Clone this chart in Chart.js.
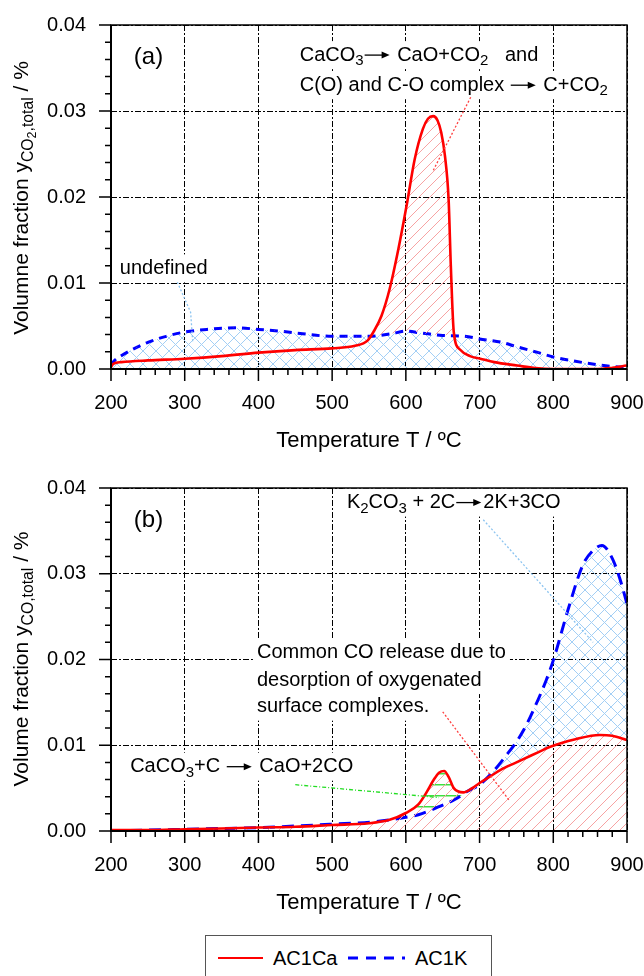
<!DOCTYPE html>
<html>
<head>
<meta charset="utf-8">
<script src="https://cdn.jsdelivr.net/npm/chart.js@4.4.1/dist/chart.umd.min.js"></script>
<style>
  body { margin: 0; background: #fff; width: 644px; height: 976px; overflow: hidden; position: relative;
         font-family: "Liberation Sans", Arial, sans-serif; }
  canvas { position: absolute; left: 0; }
  #chartA { top: 0; }
  #chartB { top: 460px; }
  .legend { position: absolute; left: 205px; top: 935px; width: 287px; height: 60px;
            border: 1px solid #555; box-sizing: border-box; }
  .legend svg { position: absolute; top: 12px; }
  .legend span { position: absolute; top: 10px; font-size: 20px; line-height: 24px; color: #000; }
</style>
</head>
<body>
<canvas id="chartA" width="644" height="460"></canvas>
<canvas id="chartB" width="644" height="460"></canvas>
<div class="legend" id="legend"></div>

<script>
// ---- data ----
const seriesNames = ['AC1Ca', 'AC1K'];
const xTickValues = [200, 300, 400, 500, 600, 700, 800, 900];
const yTickValues = [0, 0.01, 0.02, 0.03, 0.04];

// (a) CO2
const caTempA = [200, 203, 214, 250, 300, 350, 400, 450, 500, 531, 548, 556, 567, 578, 590, 601, 612, 623, 630, 637, 643, 648, 653, 658, 661, 665, 673, 687, 701, 720, 751, 776, 801, 830, 860, 876, 900];
const caCO2   = [0.0002, 0.0006, 0.0008, 0.0010, 0.0012, 0.0015, 0.0019, 0.0022, 0.0024, 0.0027, 0.0033, 0.0043, 0.0062, 0.0093, 0.0140, 0.0190, 0.0244, 0.0279, 0.0291, 0.0294, 0.0289, 0.0275, 0.0248, 0.0197, 0.0120, 0.0043, 0.0023, 0.0015, 0.0012, 0.0008, 0.0004, 0.0001, 0.0000, 0.0000, 0.0000, 0.0001, 0.0004];
const kTempA  = [200, 205, 215, 230, 250, 275, 300, 330, 370, 400, 430, 460, 500, 550, 580, 600, 620, 650, 680, 700, 730, 750, 780, 800, 830, 860, 880, 900];
const kCO2    = [0.0004, 0.0010, 0.0016, 0.0023, 0.0031, 0.0038, 0.0043, 0.0046, 0.0048, 0.0046, 0.0044, 0.0041, 0.0038, 0.0038, 0.0041, 0.0044, 0.0042, 0.0039, 0.0038, 0.0035, 0.0031, 0.0026, 0.0019, 0.0014, 0.0009, 0.0005, 0.0003, 0.0002];

// (b) CO
const caTempB = [200, 250, 300, 350, 400, 450, 500, 550, 578, 600, 617, 628, 638, 645, 652, 658, 665, 678, 690, 700, 715, 728, 750, 780, 795, 830, 863, 880, 900];
const caCO    = [0.0001, 0.0001, 0.0002, 0.0003, 0.0004, 0.0005, 0.0007, 0.0009, 0.0013, 0.0021, 0.0031, 0.0045, 0.0060, 0.0068, 0.0070, 0.0063, 0.0050, 0.0045, 0.0050, 0.0056, 0.0064, 0.0071, 0.0080, 0.0092, 0.0098, 0.0107, 0.0112, 0.0111, 0.0106];
const kTempB  = [200, 300, 400, 500, 560, 600, 617, 644, 667, 683, 700, 715, 725, 735, 750, 760, 772, 790, 800, 820, 840, 855, 866, 880, 890, 900];
const kCO     = [0.0000, 0.0002, 0.0004, 0.0008, 0.0011, 0.0016, 0.0019, 0.0028, 0.0037, 0.0046, 0.0054, 0.0066, 0.0076, 0.0087, 0.0104, 0.0118, 0.0139, 0.0175, 0.0199, 0.0258, 0.0310, 0.0328, 0.0333, 0.0318, 0.0295, 0.0265];

// ---- styling ----
const FONT = '"Liberation Sans", Arial, sans-serif';
const RED = '#ff0000';
const BLUE = '#0000ff';
const ARROW = { arrow: true };

function hatch(kind, color, size, lw) {
    const c = document.createElement('canvas');
    c.width = size; c.height = size;
    const g = c.getContext('2d');
    g.strokeStyle = color;
    g.lineWidth = lw;
    g.beginPath();
    for (let k = -1; k <= 1; k++) {
        if (kind === 'fwd' || kind === 'cross') {
            g.moveTo(k * size, size); g.lineTo(k * size + size, 0);
        }
        if (kind === 'back' || kind === 'cross') {
            g.moveTo(k * size, 0); g.lineTo(k * size + size, size);
        }
    }
    if (kind === 'horiz') {
        g.moveTo(0, size / 2); g.lineTo(size, size / 2);
    }
    g.stroke();
    return g.createPattern(c, 'repeat');
}

const blueCross = hatch('cross', '#a3cff5', 13, 1);
const redHatch = hatch('fwd', '#f7a3a3', 11, 1);
const greenHatch = hatch('horiz', '#3ee03e', 11.5, 1.5);

// draw text with sub/subsub parts; returns width
function drawParts(ctx, parts, x, y, size, dry) {
    let cx = x;
    ctx.textBaseline = 'middle';
    ctx.textAlign = 'left';
    parts.forEach(p => {
        if (p === ARROW) {
            if (!dry) {
                ctx.save();
                ctx.strokeStyle = '#000';
                ctx.fillStyle = '#000';
                ctx.lineWidth = 1.3;
                ctx.beginPath();
                ctx.moveTo(cx + 1, y); ctx.lineTo(cx + 20, y);
                ctx.stroke();
                ctx.beginPath();
                ctx.moveTo(cx + 26, y); ctx.lineTo(cx + 18, y - 3.5); ctx.lineTo(cx + 18, y + 3.5);
                ctx.closePath(); ctx.fill();
                ctx.restore();
            }
            cx += 28;
            return;
        }
        const t = typeof p === 'string' ? p : p[0];
        const lvl = typeof p === 'string' ? 0 : p[1];
        const fs = lvl === 0 ? size : lvl === 1 ? size * 0.75 : size * 0.6;
        const dy = lvl === 0 ? 0 : lvl === 1 ? size * 0.3 : size * 0.48;
        ctx.font = `${fs}px ${FONT}`;
        if (!dry) ctx.fillText(t, cx, y + dy);
        cx += ctx.measureText(t).width;
    });
    return cx - x;
}

function makeDecor(spec) {
    return {
        id: 'decor',
        beforeDatasetsDraw(chart) {
            const { ctx } = chart;
            const { x, y } = chart.scales;
            ctx.save();
            ctx.fillStyle = '#fff';
            spec.notes.forEach(n => {
                if (n.bg === false) return;
                const px = x.getPixelForValue(n.x), py = y.getPixelForValue(n.y);
                const w = drawParts(ctx, n.parts, px, py, n.size || 20, true);
                ctx.fillRect(px - 4, py - 14, w + 8, 28);
            });
            ctx.restore();
        },
        afterDatasetsDraw(chart) {
            const { ctx } = chart;
            const { x, y } = chart.scales;
            ctx.save();
            spec.leaders.forEach(l => {
                ctx.strokeStyle = l.color;
                ctx.lineWidth = 1.3;
                ctx.setLineDash(l.dash || [2, 2]);
                ctx.beginPath();
                l.pts.forEach((p, i) => {
                    const px = x.getPixelForValue(p[0]), py = y.getPixelForValue(p[1]);
                    if (i === 0) ctx.moveTo(px, py); else ctx.lineTo(px, py);
                });
                ctx.stroke();
            });
            ctx.setLineDash([]);
            ctx.fillStyle = '#000';
            spec.notes.forEach(n => {
                drawParts(ctx, n.parts, x.getPixelForValue(n.x), y.getPixelForValue(n.y), n.size || 20, false);
            });
            ctx.restore();
        },
        afterDraw(chart) {
            const { ctx, chartArea: a } = chart;
            const { x, y } = chart.scales;
            ctx.save();
            ctx.strokeStyle = '#000';
            ctx.lineWidth = 1.5;
            ctx.strokeRect(a.left, a.top, a.right - a.left, a.bottom - a.top);
            ctx.lineWidth = 2;
            ctx.beginPath();
            ctx.moveTo(a.left, a.top); ctx.lineTo(a.left, a.bottom); ctx.lineTo(a.right, a.bottom);
            ctx.stroke();
            // outward ticks, long on labelled values
            ctx.lineWidth = 1.5;
            ctx.beginPath();
            x.ticks.forEach(t => {
                const px = x.getPixelForValue(t.value);
                const len = isMajorX(t.value) ? 12 : 6;
                ctx.moveTo(px, a.bottom); ctx.lineTo(px, a.bottom + len);
            });
            y.ticks.forEach(t => {
                const py = y.getPixelForValue(t.value);
                const len = isMajorY(t.value) ? 12 : 6;
                ctx.moveTo(a.left, py); ctx.lineTo(a.left - len, py);
            });
            ctx.stroke();
            // rotated y title with subscripts
            ctx.fillStyle = '#000';
            ctx.translate(22, spec.yTitleCenter);
            ctx.rotate(-Math.PI / 2);
            const w = drawParts(ctx, spec.yTitle, 0, 0, 21, true);
            drawParts(ctx, spec.yTitle, -w / 2, 0, 21, false);
            ctx.restore();
        }
    };
}

function isMajorY(v) {
    return yTickValues.some(t => Math.abs(t - v) < 1e-7);
}
function isMajorX(v) {
    return xTickValues.includes(Math.round(v));
}

function pts(xs, ys) {
    return xs.map((t, i) => ({ x: t, y: ys[i] }));
}

function noPad(s) {
    s.paddingLeft = 0; s.paddingRight = 0; s.paddingTop = 0; s.paddingBottom = 0;
}

function buildChart(id, spec) {
    const ctx = document.getElementById(id).getContext('2d');
    return new Chart(ctx, {
        type: 'line',
        data: {
            datasets: [
                {
                    label: seriesNames[0],
                    data: pts(spec.caX, spec.caY),
                    borderColor: RED,
                    borderWidth: 2.6,
                    pointRadius: 0,
                    cubicInterpolationMode: 'monotone',
                    backgroundColor: redHatch,
                    fill: spec.redFill
                },
                {
                    label: seriesNames[1],
                    data: pts(spec.kX, spec.kY),
                    borderColor: BLUE,
                    borderWidth: 3,
                    borderDash: spec.blueDash,
                    pointRadius: 0,
                    cubicInterpolationMode: 'monotone',
                    backgroundColor: blueCross,
                    fill: spec.blueFill
                }
            ]
        },
        options: {
            responsive: false,
            animation: false,
            events: [],
            layout: { padding: { left: 0, right: 17, top: spec.padTop, bottom: 0 } },
            scales: {
                x: {
                    type: 'linear',
                    min: 200,
                    max: 900,
                    afterFit: s => { s.height = spec.xHeight; noPad(s); },
                    grid: {
                        drawTicks: false,
                        lineWidth: 1,
                        color: c => (c.tick && isMajorX(c.tick.value)) ? '#000' : 'rgba(0,0,0,0)'
                    },
                    border: { display: false, dash: [6, 2, 2, 2] },
                    ticks: {
                        stepSize: 20,
                        autoSkip: false,
                        maxRotation: 0,
                        padding: 22,
                        color: '#000',
                        font: { size: 20, family: FONT },
                        callback: v => isMajorX(v) ? String(Math.round(v)) : ''
                    },
                    title: {
                        display: true,
                        text: 'Temperature T / ºC',
                        color: '#000',
                        font: { size: 22, family: FONT },
                        padding: { top: 0, bottom: spec.xTitlePad }
                    }
                },
                y: {
                    min: 0,
                    max: 0.04,
                    afterFit: s => { s.width = 111; noPad(s); },
                    grid: {
                        drawTicks: false,
                        lineWidth: 1,
                        color: c => (c.tick && isMajorY(c.tick.value)) ? '#000' : 'rgba(0,0,0,0)'
                    },
                    border: { display: false, dash: [6, 2, 2, 2] },
                    ticks: {
                        stepSize: 0.002,
                        autoSkip: false,
                        padding: 25,
                        color: '#000',
                        font: { size: 20, family: FONT },
                        callback: v => isMajorY(v) ? v.toFixed(2) : ''
                    }
                }
            },
            plugins: {
                legend: { display: false },
                tooltip: { enabled: false }
            }
        },
        plugins: [makeDecor(spec)]
    });
}

// (a) CO2 release
buildChart('chartA', {
    caX: caTempA, caY: caCO2, kX: kTempA, kY: kCO2,
    redFill: { target: 1, above: redHatch, below: 'rgba(0,0,0,0)' },
    blueFill: 'origin',
    blueDash: [8, 6],
    padTop: 25, xHeight: 91, xTitlePad: 6,
    yTitleCenter: 198,
    yTitle: ['Volumne fraction y', ['CO', 1], ['2', 2], [',total', 1], ' / %'],
    notes: [
        { x: 231, y: 0.0362, size: 24, bg: false, parts: ['(a)'] },
        { x: 456, y: 0.0365, parts: ['CaCO', ['3', 1], ARROW, ' CaO+CO', ['2', 1], '   and'] },
        { x: 456, y: 0.0330, parts: ['C(O) and C-O complex ', ARROW, ' C+CO', ['2', 1]] },
        { x: 212, y: 0.0117, parts: ['undefined'] }
    ],
    leaders: [
        { color: '#ff4040', pts: [[688, 0.0316], [636, 0.0229]] },
        { color: '#8cc4f0', pts: [[290, 0.0101], [308, 0.0066], [311, 0.0030]] }
    ]
});

// (b) CO release
buildChart('chartB', {
    caX: caTempB, caY: caCO, kX: kTempB, kY: kCO,
    redFill: 'origin',
    blueFill: { target: 0, above: blueCross, below: greenHatch },
    blueDash: [12, 7],
    padTop: 28, xHeight: 89, xTitlePad: 4,
    yTitleCenter: 199,
    yTitle: ['Volume fraction y', ['CO,total', 1], ' / %'],
    notes: [
        { x: 231, y: 0.0362, size: 24, bg: false, parts: ['(b)'] },
        { x: 520, y: 0.0383, parts: ['K', ['2', 1], 'CO', ['3', 1], ' + 2C', ARROW, '2K+3CO'] },
        { x: 398, y: 0.0208, parts: ['Common CO release due to'] },
        { x: 398, y: 0.0176, parts: ['desorption of oxygenated'] },
        { x: 398, y: 0.0145, parts: ['surface complexes.'] },
        { x: 226, y: 0.0075, parts: ['CaCO', ['3', 1], '+C ', ARROW, ' CaO+2CO'] }
    ],
    leaders: [
        { color: '#8cc4f0', pts: [[705, 0.0363], [854, 0.0220]] },
        { color: '#ff4040', pts: [[650, 0.0139], [740, 0.0036]] },
        { color: '#22dd22', dash: [4, 2, 1, 2], pts: [[450, 0.0054], [645, 0.0039]] }
    ]
});

// legend below the charts
const legend = document.getElementById('legend');
legend.innerHTML = `
  <svg style="left:11px" width="47" height="20"><line x1="1" y1="10" x2="46" y2="10" stroke="${RED}" stroke-width="2.2"/></svg>
  <span style="left:67px">${seriesNames[0]}</span>
  <svg style="left:141px" width="58" height="20"><line x1="1" y1="10" x2="58" y2="10" stroke="${BLUE}" stroke-width="3" stroke-dasharray="10,8"/></svg>
  <span style="left:209px">${seriesNames[1]}</span>`;
</script>
</body>
</html>
